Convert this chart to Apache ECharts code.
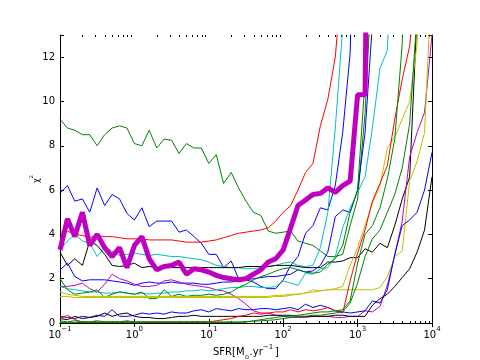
<!DOCTYPE html>
<html>
<head>
<meta charset="utf-8">
<script src="https://cdn.jsdelivr.net/npm/echarts@6/dist/echarts.min.js"></script>
<style>
html, body { margin: 0; padding: 0; background: #fff; }
#chart { width: 480px; height: 360px; }
</style>
</head>
<body>
<div id="chart"></div>
<script>
// SFR sample points (0.1 dex steps from 1e-1 to 1e4)
const SFR = [
    0.1, 0.126, 0.158, 0.2, 0.251, 0.316, 0.398, 0.501, 0.631, 0.794,
    1, 1.26, 1.58, 2, 2.51, 3.16, 3.98, 5.01, 6.31, 7.94,
    10, 12.6, 15.8, 20, 25.1, 31.6, 39.8, 50.1, 63.1, 79.4,
    100, 126, 158, 200, 251, 316, 398, 501, 631, 794,
    1000, 1260, 1580, 2000, 2510, 3160, 3980, 5010, 6310, 7940,
    10000
];

// chi^2 curves, one value per SFR point (curves stop once they leave the top)
const green1 = [
    9.2, 8.8, 8.7, 8.5, 8.5, 8.0, 8.5, 8.8, 8.9, 8.8,
    8.1, 8.0, 8.7, 7.9, 8.3, 8.25, 7.65, 8.1, 7.9, 7.9,
    7.2, 7.6, 6.3, 6.8, 6.1, 5.5, 5.0, 4.85, 4.15, 4.05,
    4.1, 4.15, 3.7, 3.6, 3.5, 3.25, 3.0, 3.0, 3.1, 4.4,
    5.6, 9.5, 16
];
const blue1 = [
    5.85, 6.2, 5.5, 5.6, 5.0, 6.1, 5.3, 5.8, 5.6, 4.95,
    4.65, 5.2, 4.35, 4.6, 4.6, 4.6, 4.1, 4.2, 3.9, 3.6,
    3.1, 3.1, 2.5, 2.8, 2.0, 1.95, 1.85, 1.65, 1.55, 1.55,
    1.95, 2.6, 3.0, 4.05, 4.4, 5.2, 5.1, 6.2, 8.6, 12.2,
    25
];
const red1 = [
    4.1, 4.15, 4.0, 3.95, 3.85, 3.95, 3.9, 3.9, 3.85, 3.8,
    3.8, 3.8, 3.75, 3.75, 3.75, 3.75, 3.7, 3.65, 3.65, 3.65,
    3.7, 3.75, 3.85, 3.95, 4.05, 4.1, 4.15, 4.2, 4.3, 4.6,
    5.0, 5.3, 6.0, 6.8, 7.2, 8.9, 10.1, 12.0, 16
];
const cyan1 = [
    3.3, 3.7, 4.0, 3.7, 3.6, 3.0, 3.4, 3.25, 3.05, 3.1,
    3.15, 3.1, 3.05, 3.1, 3.05, 3.0, 3.0, 2.95, 2.9, 2.85,
    2.75, 2.6, 2.55, 2.5, 2.5, 2.45, 2.45, 2.5, 2.55, 2.6,
    2.7, 2.75, 2.6, 2.55, 2.6, 3.4, 5.0, 8.8, 13.3, 20
];
const black1 = [
    3.2, 2.6, 2.9, 2.6, 3.7, 3.5, 3.1, 2.6, 2.55, 2.6,
    2.7, 2.5, 2.55, 2.5, 2.5, 2.5, 2.5, 2.5, 2.5, 2.5,
    2.5, 2.5, 2.5, 2.5, 2.5, 2.55, 2.55, 2.55, 2.55, 2.6,
    2.6, 2.6, 2.55, 2.5, 2.5, 2.5, 2.75, 2.75, 2.8, 2.95,
    2.95, 3.35, 3.2, 3.6, 3.4, 4.4, 5.6, 6.6, 14
];
const blue2 = [
    2.4, 2.7, 2.1, 1.9, 1.95, 1.95, 1.95, 1.9, 1.85, 1.8,
    1.7, 1.8, 1.85, 1.8, 1.8, 1.85, 1.8, 1.8, 1.8, 1.75,
    1.75, 1.8, 1.85, 1.85, 1.9, 1.95, 2.0, 2.05, 2.1, 2.1,
    2.15, 2.2, 2.4, 2.3, 2.35, 2.6, 3.2, 4.8, 5.1, 5.0,
    6.0, 8.6, 13.5
];
const magenta1 = [
    1.65, 1.65, 1.7, 1.8, 1.55, 1.4, 1.75, 2.2, 2.0, 1.9,
    1.75, 1.65, 1.65, 1.7, 1.9, 1.95, 1.85, 1.75, 1.7, 1.65,
    1.6, 1.5, 1.45, 1.3, 1.1, 0.85, 0.55, 0.45, 0.45, 0.35,
    0.3, 0.25, 0.25, 0.25, 0.3, 0.3, 0.3, 0.25, 0.25, 0.3,
    0.3, 0.55, 0.5, 0.75, 1.7, 3.05, 4.6, 7.5, 8.6, 9.5,
    13
];
const cyan2 = [
    1.65, 1.55, 1.5, 1.45, 1.4, 1.4, 1.35, 1.35, 1.4, 1.35,
    1.3, 1.35, 1.3, 1.35, 1.35, 1.4, 1.4, 1.45, 1.45, 1.5,
    1.45, 1.5, 1.55, 1.6, 1.6, 1.65, 1.65, 1.6, 1.6, 1.65,
    1.9, 1.8, 1.7, 2.25, 2.2, 2.45, 2.5, 3.0, 4.3, 5.2,
    5.9, 6.6, 8.8, 11.5, 12.3, 20
];
const green2 = [
    2.0, 1.5, 1.3, 1.35, 1.4, 1.5, 1.15, 1.3, 1.4, 1.35,
    1.3, 1.4, 1.1, 1.1, 1.5, 1.2, 1.3, 1.2, 1.25, 1.25,
    1.3, 1.25, 1.3, 1.4, 1.6, 1.75, 1.95, 2.1, 2.2, 2.35,
    2.45, 2.5, 2.4, 2.3, 2.25, 2.3, 2.65, 2.9, 3.5, 5.0,
    6.0, 11, 16
];
const yellow1 = [
    1.4, 1.3, 1.25, 1.2, 1.2, 1.2, 1.2, 1.2, 1.2, 1.2,
    1.2, 1.2, 1.2, 1.2, 1.2, 1.2, 1.2, 1.2, 1.2, 1.2,
    1.2, 1.2, 1.2, 1.2, 1.2, 1.2, 1.2, 1.2, 1.2, 1.25,
    1.25, 1.3, 1.3, 1.35, 1.5, 1.45, 1.5, 1.55, 1.65, 2.6,
    3.4, 4.4, 5.4, 6.2, 7.9, 8.4, 9.2, 10.0, 12.6, 20
];
const yellow2 = [
    1.2, 1.2, 1.15, 1.15, 1.15, 1.15, 1.15, 1.15, 1.15, 1.15,
    1.15, 1.15, 1.15, 1.15, 1.15, 1.15, 1.15, 1.15, 1.15, 1.15,
    1.15, 1.15, 1.15, 1.15, 1.15, 1.15, 1.15, 1.15, 1.15, 1.2,
    1.2, 1.25, 1.3, 1.35, 1.4, 1.45, 1.5, 1.5, 1.5, 1.5,
    1.5, 1.5, 1.5, 1.6, 2.1, 3.0, 3.25, 6.4, 7.3, 8.6,
    16
];
const blue3 = [
    0.3, 0.25, 0.2, 0.3, 0.25, 0.35, 0.3, 0.6, 0.3, 0.3,
    0.35, 0.45, 0.4, 0.45, 0.4, 0.5, 0.45, 0.45, 0.55, 0.6,
    0.5, 0.65, 0.6, 0.55, 0.65, 0.6, 0.6, 0.65, 0.65, 0.6,
    0.65, 0.7, 0.6, 0.85, 0.7, 0.8, 0.7, 0.55, 0.5, 0.45,
    0.5, 0.55, 1.0, 0.9, 1.5, 3.1, 4.4, 4.65, 5.0, 6.0,
    7.7
];
const black2 = [
    0.2, 0.15, 0.3, 0.2, 0.25, 0.3, 0.45, 0.3, 0.4, 0.45,
    0.3, 0.25, 0.25, 0.2, 0.2, 0.25, 0.3, 0.3, 0.35, 0.3,
    0.3, 0.3, 0.3, 0.3, 0.3, 0.3, 0.3, 0.3, 0.35, 0.35,
    0.35, 0.35, 0.3, 0.3, 0.3, 0.3, 0.3, 0.35, 0.35, 0.3,
    0.3, 0.3, 0.8, 1.1, 1.3, 1.65, 2.05, 2.45, 3.2, 4.2,
    6.6
];
const red2 = [
    0.2, 0.35, 0.15, 0.05, 0.05, 0.05, 0.05, 0.05, 0.05, 0.05,
    0.05, 0.05, 0.05, 0.05, 0.05, 0.05, 0.05, 0.05, 0.05, 0.05,
    0.05, 0.1, 0.15, 0.2, 0.3, 0.35, 0.45, 0.4, 0.45, 0.5,
    0.5, 0.6, 0.5, 0.6, 0.55, 0.6, 0.7, 0.55, 0.45, 1.9,
    3.15, 4.2, 5.5, 6.3, 7.1, 9.2, 11.0, 12.5, 16
];
const green3 = [
    0.1, 0.05, 0.1, 0.05, 0.05, 0.1, 0.05, 0.05, 0.05, 0.1,
    0.05, 0.05, 0.05, 0.05, 0.05, 0.05, 0.05, 0.05, 0.05, 0.05,
    0.05, 0.05, 0.05, 0.05, 0.05, 0.05, 0.1, 0.15, 0.2, 0.25,
    0.3, 0.3, 0.35, 0.4, 0.45, 0.5, 0.5, 0.55, 0.6, 1.0,
    2.7, 4.0, 4.4, 5.2, 6.5, 8.3, 12.6, 30
];
const green4 = [
    0.02, 0.02, 0.02, 0.02, 0.02, 0.02, 0.02, 0.02, 0.02, 0.02,
    0.02, 0.02, 0.02, 0.02, 0.02, 0.02, 0.02, 0.02, 0.02, 0.02,
    0.02, 0.02, 0.02, 0.02, 0.02, 0.05, 0.08, 0.1, 0.12, 0.15,
    0.2, 0.25, 0.3, 0.3, 0.35, 0.35, 0.4, 0.45, 0.5, 0.9,
    1.8, 3.0, 3.8, 4.2, 5.0, 5.8, 7.0, 9.0, 14
];
const magentaBest = [
    3.3, 4.7, 3.9, 5.0, 3.5, 4.0, 3.4, 3.0, 3.4, 2.5,
    3.5, 3.9, 2.9, 2.4, 2.55, 2.6, 2.75, 2.2, 2.45, 2.4,
    2.3, 2.15, 2.05, 2.0, 1.95, 2.0, 2.2, 2.4, 2.75, 2.9,
    3.3, 4.3, 5.3, 5.55, 5.8, 5.85, 6.1, 5.9, 6.2, 6.4,
    10.3, 10.3, 40
];

// minor tick positions on the log axis
const MINOR_TICKS = [
    0.2, 0.3, 0.4, 0.5, 0.6, 0.7, 0.8, 0.9,
    2, 3, 4, 5, 6, 7, 8, 9,
    20, 30, 40, 50, 60, 70, 80, 90,
    200, 300, 400, 500, 600, 700, 800, 900,
    2000, 3000, 4000, 5000, 6000, 7000, 8000, 9000
];

const CURVES = [
    { data: green1, color: '#008000' },
    { data: blue1, color: '#0000ff' },
    { data: red1, color: '#ff0000' },
    { data: cyan1, color: '#00bfbf' },
    { data: black1, color: '#000000' },
    { data: blue2, color: '#0000ff' },
    { data: magenta1, color: '#bf00bf' },
    { data: cyan2, color: '#00bfbf' },
    { data: green2, color: '#008000' },
    { data: yellow1, color: '#bfbf00' },
    { data: yellow2, color: '#bfbf00' },
    { data: blue3, color: '#0000ff' },
    { data: black2, color: '#000000' },
    { data: red2, color: '#ff0000' },
    { data: green3, color: '#008000' },
    { data: green4, color: '#008000' },
    { data: magentaBest, color: '#bf00bf', width: 5 }
];

const FONT = 'DejaVu Sans';
const Y_MAX = 13;

const chart = echarts.init(document.getElementById('chart'));

const series = CURVES.map(c => ({
    type: 'line',
    xAxisIndex: 0,
    yAxisIndex: 0,
    data: c.data.map((v, i) => [SFR[i], v]),
    showSymbol: false,
    symbol: 'none',
    clip: true,
    lineStyle: { color: c.color, width: c.width || 1 },
    silent: true
}));

// small minor ticks at top and bottom of the frame
series.push({
    type: 'custom',
    xAxisIndex: 0,
    yAxisIndex: 0,
    silent: true,
    clip: false,
    data: MINOR_TICKS.map(v => [v, 0]),
    encode: { x: 0, y: 1 },
    renderItem: (params, api) => {
        const b = api.coord([api.value(0), 0]);
        const t = api.coord([api.value(0), Y_MAX]);
        const x = Math.round(b[0]) + 0.5;
        return {
            type: 'group',
            children: [
                { type: 'line', shape: { x1: x, y1: b[1], x2: x, y2: b[1] - 2 }, style: { stroke: '#000', lineWidth: 1 } },
                { type: 'line', shape: { x1: x, y1: t[1], x2: x, y2: t[1] + 2 }, style: { stroke: '#000', lineWidth: 1 } }
            ]
        };
    }
});

const frameLine = { show: true, lineStyle: { color: '#000', width: 1 } };
const majorTick = { show: true, inside: true, length: 4, lineStyle: { color: '#000', width: 1 } };

function expLabel(v) {
    const e = Math.round(Math.log10(v));
    const s = e < 0 ? '\u2212' + (-e) : String(e);
    return '{b|10}{e|' + s + '}';
}

const option = {
    animation: false,
    backgroundColor: '#fff',
    grid: { left: 60, right: 48, top: 35, bottom: 37, outerBoundsMode: 'none', containLabel: false },
    xAxis: [
        {
            type: 'log',
            logBase: 10,
            min: 0.1,
            max: 10000,
            position: 'bottom',
            axisLine: frameLine,
            axisTick: majorTick,
            splitLine: { show: false },
            axisLabel: {
                margin: 3,
                formatter: expLabel,
                rich: {
                    b: { fontSize: 10, fontFamily: FONT, color: '#000', lineHeight: 14, verticalAlign: 'bottom' },
                    e: { fontSize: 7, fontFamily: FONT, color: '#000', lineHeight: 14, verticalAlign: 'top' }
                }
            },
            name: 'SFR[M{sub|\u2299}.yr{sup|\u22121}\u2009]',
            nameLocation: 'middle',
            nameGap: 21,
            nameMoveOverlap: false,
            nameTextStyle: {
                fontSize: 10,
                fontFamily: FONT,
                color: '#000',
                lineHeight: 16,
                rich: {
                    sub: { fontSize: 6, fontFamily: FONT, color: '#000', lineHeight: 16, verticalAlign: 'bottom' },
                    sup: { fontSize: 7, fontFamily: FONT, color: '#000', lineHeight: 16, verticalAlign: 'top' }
                }
            }
        },
        {
            type: 'log',
            logBase: 10,
            min: 0.1,
            max: 10000,
            position: 'top',
            axisLine: frameLine,
            axisTick: majorTick,
            splitLine: { show: false },
            axisLabel: { show: false }
        }
    ],
    yAxis: [
        {
            type: 'value',
            min: 0,
            max: Y_MAX,
            interval: 2,
            position: 'left',
            axisLine: frameLine,
            axisTick: majorTick,
            splitLine: { show: false },
            axisLabel: {
                margin: 5,
                fontSize: 10,
                fontFamily: FONT,
                color: '#000',
                formatter: v => (v % 2 === 0 ? String(v) : '')
            },
            name: '{c|\u03c7}{s|2}',
            nameLocation: 'middle',
            nameGap: 19,
            nameMoveOverlap: false,
            nameTextStyle: {
                rich: {
                    c: { fontSize: 8, fontFamily: FONT, color: '#000', lineHeight: 12, verticalAlign: 'bottom' },
                    s: { fontSize: 5, fontFamily: FONT, color: '#000', lineHeight: 12, verticalAlign: 'top' }
                }
            }
        },
        {
            type: 'value',
            min: 0,
            max: Y_MAX,
            interval: 2,
            position: 'right',
            axisLine: frameLine,
            axisTick: majorTick,
            splitLine: { show: false },
            axisLabel: { show: false }
        }
    ],
    series: series
};

chart.setOption(option);
</script>
</body>
</html>
